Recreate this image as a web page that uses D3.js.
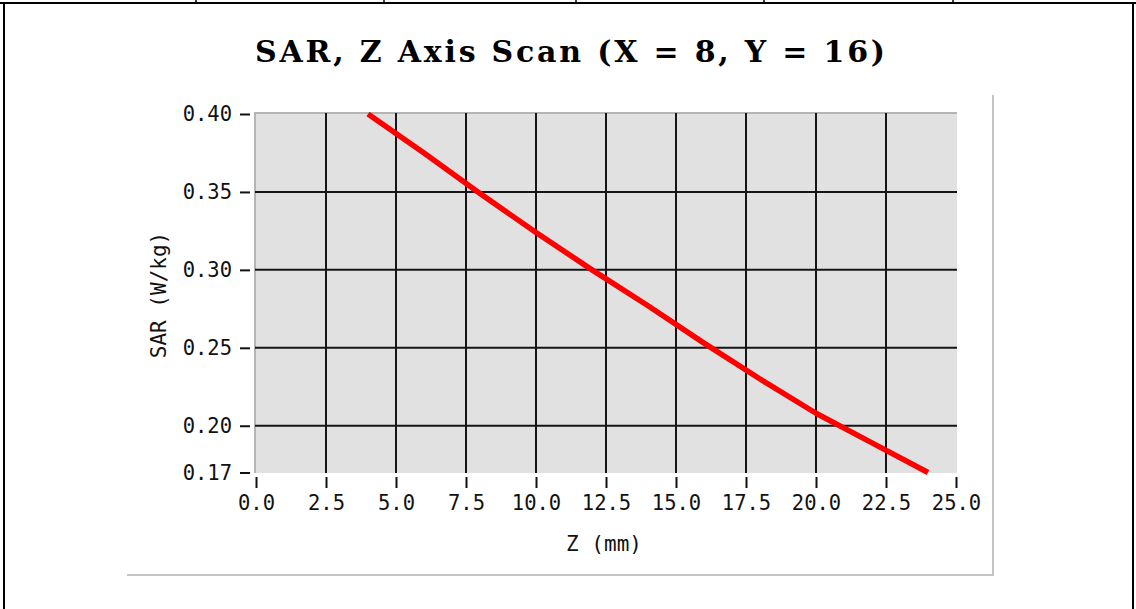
<!DOCTYPE html>
<html>
<head>
<meta charset="utf-8">
<script src="https://cdn.jsdelivr.net/npm/d3@7"></script>
<style>
  html, body { margin: 0; padding: 0; background: #ffffff; }
  svg { display: block; }
  .tick text { font-family: "DejaVu Sans Mono", monospace; font-size: 20.5px; fill: #111; }
</style>
</head>
<body>
<svg id="chart" width="1136" height="609"></svg>
<script>
// Z-axis scan: distance from phantom surface (mm) and SAR (W/kg)
const zValues   = [4, 6, 8, 10, 12, 14, 16, 18, 20, 22, 24];
const sarValues = [0.400, 0.375, 0.349, 0.324, 0.300, 0.277, 0.253, 0.230, 0.208, 0.189, 0.170];

const xTicks = [0, 2.5, 5, 7.5, 10, 12.5, 15, 17.5, 20, 22.5, 25];
const yTicks = [0.17, 0.20, 0.25, 0.30, 0.35, 0.40];
const yGrid  = [0.20, 0.25, 0.30, 0.35];
const xGrid  = [2.5, 5, 7.5, 10, 12.5, 15, 17.5, 20, 22.5];

const titleText = "SAR, Z Axis Scan (X = 8, Y = 16)";
const xLabel = "Z (mm)";
const yLabel = "SAR (W/kg)";

const svg = d3.select("#chart");

// Page frame: table borders around the figure
const frame = svg.append("g").attr("stroke", "#000").attr("stroke-width", 2);
frame.append("line").attr("x1", 0).attr("x2", 1136).attr("y1", 3).attr("y2", 3);
frame.append("line").attr("x1", 4).attr("x2", 4).attr("y1", 2).attr("y2", 609);
frame.append("line").attr("x1", 1133).attr("x2", 1133).attr("y1", 2).attr("y2", 609);
[196, 384, 576, 764, 953].forEach(px => {
  frame.append("line").attr("x1", px).attr("x2", px).attr("y1", 0).attr("y2", 3).attr("stroke-width", 1.5);
});

// Figure panel edge (right and bottom)
svg.append("path")
  .attr("d", "M993,95 V575 H127")
  .attr("fill", "none").attr("stroke", "#c4c4c4").attr("stroke-width", 2);

// Plot geometry
const plotL = 255, plotR = 957, plotT = 113, plotB = 473;
const x = d3.scaleLinear().domain([0, 25]).range([256, 956]);
const y = d3.scaleLinear().domain([0.17, 0.40]).range([472.5, 114]);

// Plot background
svg.append("rect")
  .attr("x", plotL).attr("y", plotT)
  .attr("width", plotR - plotL).attr("height", plotB - plotT)
  .attr("fill", "#e1e1e1");

// Plot top and left edges
svg.append("path")
  .attr("d", `M${plotL},${plotB} V${plotT} H${plotR}`)
  .attr("fill", "none").attr("stroke", "#b4b4b4").attr("stroke-width", 2);

// Grid
const grid = svg.append("g").attr("stroke", "#151515").attr("stroke-width", 2);
grid.selectAll("line.h").data(yGrid).join("line")
  .attr("class", "h")
  .attr("x1", plotL).attr("x2", plotR)
  .attr("y1", d => y(d)).attr("y2", d => y(d));
grid.selectAll("line.v").data(xGrid).join("line")
  .attr("class", "v")
  .attr("x1", d => x(d)).attr("x2", d => x(d))
  .attr("y1", plotT).attr("y2", plotB);

// SAR curve
const line = d3.line().x((d, i) => x(zValues[i])).y(d => y(d));
svg.append("path")
  .datum(sarValues)
  .attr("d", line)
  .attr("fill", "none")
  .attr("stroke", "#ff0000")
  .attr("stroke-width", 5.5)
  .attr("stroke-linejoin", "round");

// Y axis
const yAxis = svg.append("g")
  .attr("transform", "translate(250,0)")
  .call(d3.axisLeft(y).tickValues(yTicks).tickFormat(d3.format(".2f")).tickSize(10).tickPadding(8));
yAxis.select(".domain").remove();
yAxis.selectAll(".tick line").attr("stroke", "#111").attr("stroke-width", 2);

// X axis
const xAxis = svg.append("g")
  .attr("transform", "translate(0,477)")
  .call(d3.axisBottom(x).tickValues(xTicks).tickFormat(d3.format(".1f")).tickSize(11).tickPadding(7));
xAxis.select(".domain").remove();
xAxis.selectAll(".tick line").attr("stroke", "#111").attr("stroke-width", 2);

// Title
svg.append("text")
  .attr("x", 570).attr("y", 62)
  .attr("text-anchor", "middle")
  .attr("font-family", "'DejaVu Serif', 'Liberation Serif', serif")
  .attr("font-weight", "bold")
  .attr("font-size", 30)
  .attr("textLength", 630)
  .attr("lengthAdjust", "spacing")
  .attr("fill", "#000")
  .text(titleText);

// Axis titles
svg.append("text")
  .attr("x", 604).attr("y", 551)
  .attr("text-anchor", "middle")
  .attr("font-family", "'DejaVu Sans Mono', monospace")
  .attr("font-size", 21)
  .attr("fill", "#111")
  .text(xLabel);

svg.append("text")
  .attr("transform", "translate(166,295) rotate(-90)")
  .attr("text-anchor", "middle")
  .attr("font-family", "'DejaVu Sans Mono', monospace")
  .attr("font-size", 21)
  .attr("fill", "#111")
  .text(yLabel);
</script>
</body>
</html>
